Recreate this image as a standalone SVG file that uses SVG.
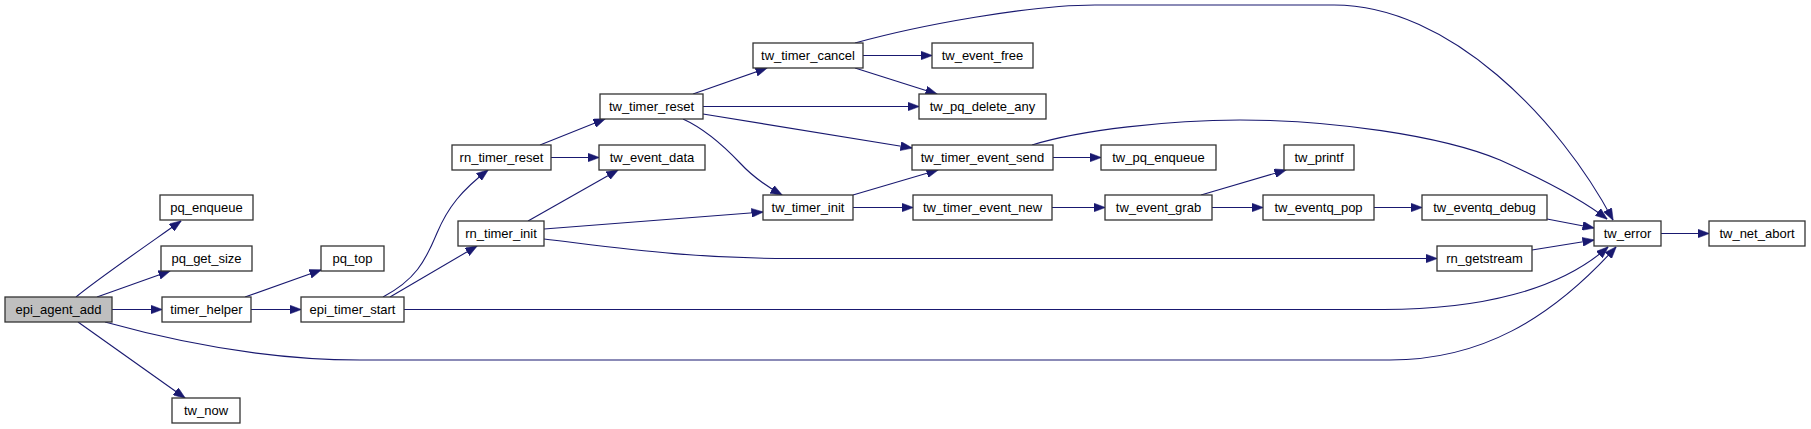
<svg xmlns="http://www.w3.org/2000/svg" width="1811" height="429" viewBox="0 0 1811 429">
<style>
.n rect{fill:#fff;stroke:#333;stroke-width:1.3}
.n text{font-family:"Liberation Sans",Arial,sans-serif;font-size:13px;fill:#000;text-anchor:middle}
.e path{fill:none;stroke:#191970;stroke-width:1.1;marker-end:url(#a)}
</style>
<defs>
<marker id="a" markerWidth="12" markerHeight="9" refX="11.5" refY="4.5" orient="auto" markerUnits="userSpaceOnUse">
<path d="M0,0 L12,4.5 L0,9 z" fill="#191970" stroke="#191970" stroke-width="0.5"/>
</marker>
</defs>
<rect width="1811" height="429" fill="#fff"/>
<g id="edges" class="e">
<path d="M76,297 C95,281 140,250 181,221"/>
<path d="M97,297 L170,271"/>
<path d="M112,309.5 L162,309.5"/>
<path d="M78,322 L185,398"/>
<path d="M105,322 C170,340 260,360 360,360 L1390,360 C1480,360 1550,320 1616,247"/>
<path d="M245,297 L321,270"/>
<path d="M251,309.5 L301,309.5"/>
<path d="M383,297 C415,280 425,262 437,233 C448,207 462,190 488,170"/>
<path d="M390,297 L477,246"/>
<path d="M404,309.5 L1380,309.5 C1480,310 1560,290 1608,247"/>
<path d="M540,145 L605,119"/>
<path d="M551,157.5 L599,157.5"/>
<path d="M528,221 L618,170"/>
<path d="M544,229 L763,212"/>
<path d="M544,239 C620,248 690,258.5 790,258.5 L1437,258.5"/>
<path d="M693,94 L767,68"/>
<path d="M703,106.5 L919,106.5"/>
<path d="M703,114 L912,148"/>
<path d="M683,119 C705,129 722,144 740,163 C752,176 766,186 782,195"/>
<path d="M855,43 C920,25 1030,5 1095,5 L1334,5 C1450,5 1560,120 1613,220"/>
<path d="M863,55.5 L932,55.5"/>
<path d="M855,68 L937,94"/>
<path d="M853,195 L938,170"/>
<path d="M853,207.5 L913,207.5"/>
<path d="M1053,157.5 L1101,157.5"/>
<path d="M1032,145 C1080,130 1170,120 1240,120 C1330,120 1440,135 1500,160 C1540,178 1580,198 1607,219"/>
<path d="M1052,207.5 L1105,207.5"/>
<path d="M1201,195 L1286,170"/>
<path d="M1212,207.5 L1263,207.5"/>
<path d="M1374,207.5 L1422,207.5"/>
<path d="M1547,219 L1594,228"/>
<path d="M1532,250 L1594,240"/>
<path d="M1661,233.5 L1709,233.5"/>
</g>
<g id="epi_agent_add" class="n"><rect x="5" y="297" width="107" height="25" style="fill:#bfbfbf"/><text x="58.5" y="313.5">epi_agent_add</text></g>
<g id="pq_enqueue" class="n"><rect x="160" y="195" width="93" height="25"/><text x="206.5" y="211.5">pq_enqueue</text></g>
<g id="pq_get_size" class="n"><rect x="161" y="246" width="91" height="25"/><text x="206.5" y="262.5">pq_get_size</text></g>
<g id="timer_helper" class="n"><rect x="162" y="297" width="89" height="25"/><text x="206.5" y="313.5">timer_helper</text></g>
<g id="tw_now" class="n"><rect x="172" y="398" width="68" height="25"/><text x="206" y="414.5">tw_now</text></g>
<g id="pq_top" class="n"><rect x="321" y="246" width="63" height="25"/><text x="352.5" y="262.5">pq_top</text></g>
<g id="epi_timer_start" class="n"><rect x="301" y="297" width="103" height="25"/><text x="352.5" y="313.5">epi_timer_start</text></g>
<g id="rn_timer_reset" class="n"><rect x="452" y="145" width="99" height="25"/><text x="501.5" y="161.5">rn_timer_reset</text></g>
<g id="rn_timer_init" class="n"><rect x="458" y="221" width="86" height="25"/><text x="501" y="237.5">rn_timer_init</text></g>
<g id="tw_timer_reset" class="n"><rect x="600" y="94" width="103" height="25"/><text x="651.5" y="110.5">tw_timer_reset</text></g>
<g id="tw_event_data" class="n"><rect x="599" y="145" width="106" height="25"/><text x="652" y="161.5">tw_event_data</text></g>
<g id="tw_timer_cancel" class="n"><rect x="753" y="43" width="110" height="25"/><text x="808" y="59.5">tw_timer_cancel</text></g>
<g id="tw_timer_init" class="n"><rect x="763" y="195" width="90" height="25"/><text x="808" y="211.5">tw_timer_init</text></g>
<g id="tw_event_free" class="n"><rect x="932" y="43" width="101" height="25"/><text x="982.5" y="59.5">tw_event_free</text></g>
<g id="tw_pq_delete_any" class="n"><rect x="919" y="94" width="127" height="25"/><text x="982.5" y="110.5">tw_pq_delete_any</text></g>
<g id="tw_timer_event_send" class="n"><rect x="912" y="145" width="141" height="25"/><text x="982.5" y="161.5">tw_timer_event_send</text></g>
<g id="tw_timer_event_new" class="n"><rect x="913" y="195" width="139" height="25"/><text x="982.5" y="211.5">tw_timer_event_new</text></g>
<g id="tw_pq_enqueue" class="n"><rect x="1101" y="145" width="115" height="25"/><text x="1158.5" y="161.5">tw_pq_enqueue</text></g>
<g id="tw_event_grab" class="n"><rect x="1105" y="195" width="107" height="25"/><text x="1158.5" y="211.5">tw_event_grab</text></g>
<g id="tw_printf" class="n"><rect x="1284" y="145" width="70" height="25"/><text x="1319" y="161.5">tw_printf</text></g>
<g id="tw_eventq_pop" class="n"><rect x="1263" y="195" width="111" height="25"/><text x="1318.5" y="211.5">tw_eventq_pop</text></g>
<g id="tw_eventq_debug" class="n"><rect x="1422" y="195" width="125" height="25"/><text x="1484.5" y="211.5">tw_eventq_debug</text></g>
<g id="rn_getstream" class="n"><rect x="1437" y="246" width="95" height="25"/><text x="1484.5" y="262.5">rn_getstream</text></g>
<g id="tw_error" class="n"><rect x="1594" y="221" width="67" height="25"/><text x="1627.5" y="237.5">tw_error</text></g>
<g id="tw_net_abort" class="n"><rect x="1709" y="221" width="96" height="25"/><text x="1757" y="237.5">tw_net_abort</text></g>
</svg>
